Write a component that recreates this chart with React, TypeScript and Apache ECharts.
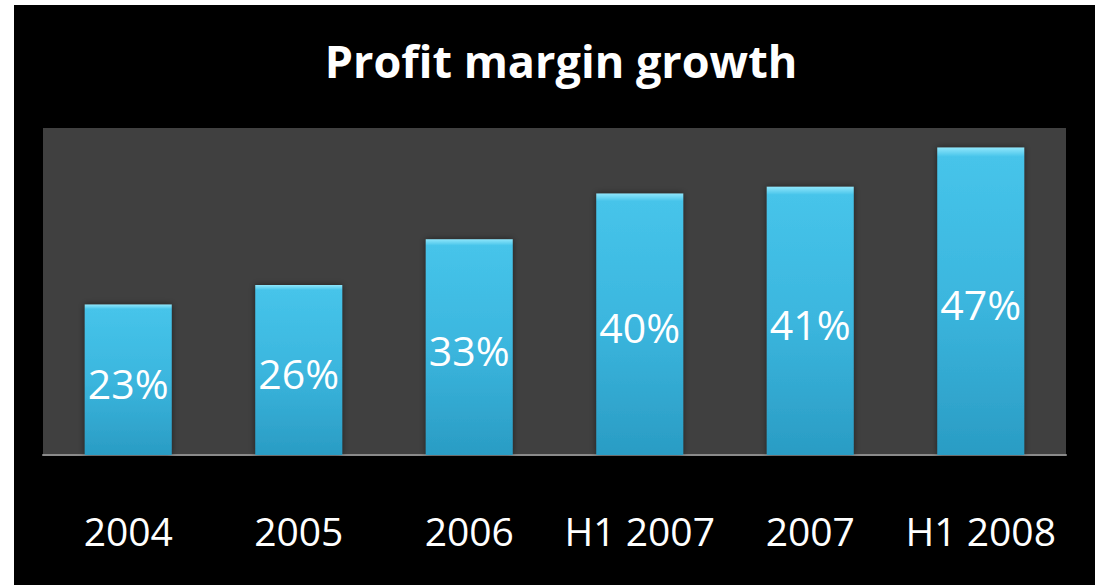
import React, { useEffect, useRef } from "react";
import * as echarts from "echarts";

const categories = ["2004", "2005", "2006", "H1 2007", "2007", "H1 2008"];
const margins = [23, 26, 33, 40, 41, 47];
const titleText = "Profit margin growth";

export default function App() {
  const ref = useRef<HTMLDivElement>(null);
  useEffect(() => {
    const chart = echarts.init(ref.current!, null, { renderer: "svg" });
    chart.setOption({
      animation: false,
      backgroundColor: "#ffffff",
      graphic: [
        {
          type: "rect",
          z: -10,
          shape: { x: 14, y: 5, width: 1081, height: 580 },
          style: { fill: "#000000" },
        },
      ],
      title: {
        text: titleText,
        left: 556,
        textAlign: "center",
        top: 33,
        textStyle: {
          color: "#ffffff",
          fontSize: 45,
          fontWeight: "bold",
          fontFamily: "Open Sans",
        },
      },
      grid: {
        left: 43,
        right: 31,
        top: 128,
        bottom: 130,
        show: true,
        backgroundColor: "#404040",
        borderWidth: 0,
      },
      xAxis: {
        type: "category",
        data: categories,
        axisLine: { lineStyle: { color: "#8a8a8a", width: 2 } },
        axisTick: { show: false },
        axisLabel: {
          color: "#ffffff",
          fontSize: 39,
          fontFamily: "Open Sans",
          margin: 56,
          interval: 0,
          hideOverlap: false,
        },
      },
      yAxis: {
        type: "value",
        min: 0,
        max: 50,
        show: false,
        splitLine: { show: false },
      },
      series: [
        {
          type: "bar",
          data: margins,
          barWidth: "51%",
          itemStyle: {
            color: new echarts.graphic.LinearGradient(0, 0, 0, 1, [
              { offset: 0, color: "#8fe6fb" },
              { offset: 0.03, color: "#46c4ea" },
              { offset: 0.5, color: "#3bb6de" },
              { offset: 1, color: "#2a9cc4" },
            ]),
            shadowColor: "rgba(0,0,0,0.5)",
            shadowBlur: 6,
          },
          label: {
            show: true,
            position: "inside",
            offset: [0, 3],
            formatter: "{c}%",
            color: "#ffffff",
            fontSize: 41,
            fontFamily: "Open Sans",
          },
        },
      ],
    });
    return () => chart.dispose();
  }, []);
  return (
    <div
      ref={ref}
      style={{ position: "absolute", left: 0, top: 0, width: 1097, height: 585 }}
    />
  );
}
